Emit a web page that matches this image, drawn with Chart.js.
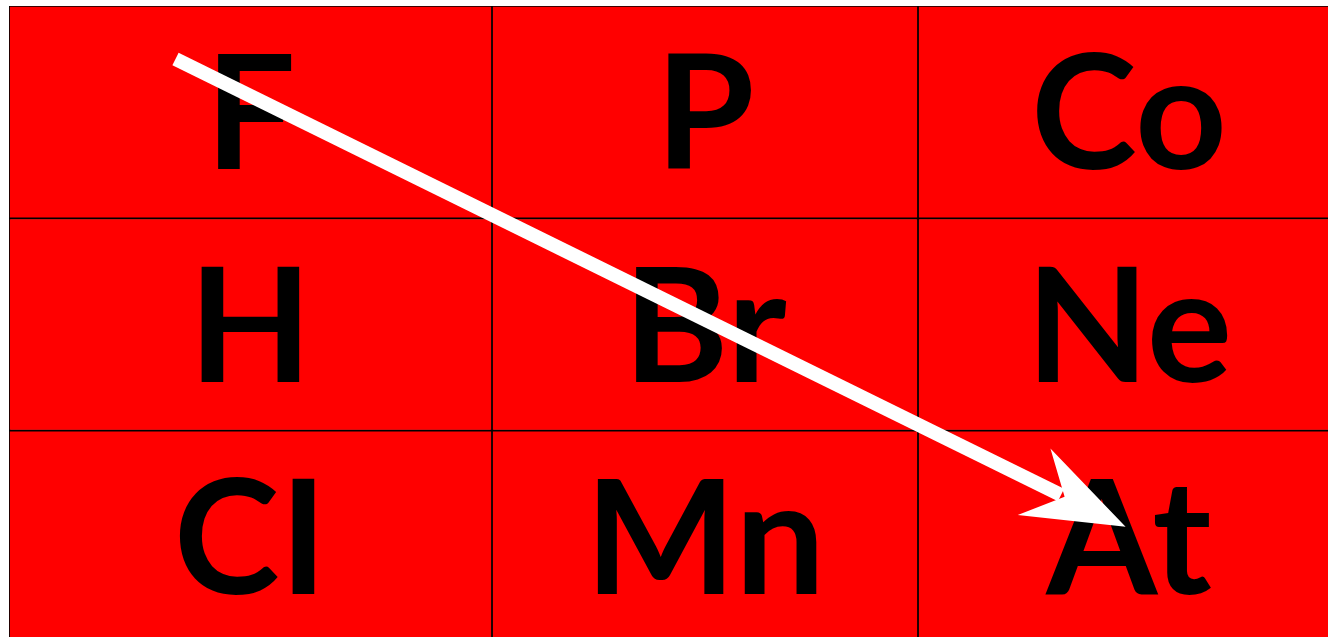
<!DOCTYPE html>
<html>
<head>
<meta charset="utf-8">
<script src="https://cdn.jsdelivr.net/npm/chart.js@4"></script>
<style>
  html, body { margin: 0; padding: 0; background: #fff; overflow: hidden; }
  #mychart { position: absolute; left: 0; top: 0; }
</style>
</head>
<body>
<canvas id="mychart" width="1350" height="660"></canvas>
<script>
// grid of element symbols, one row per category
const rows = ['row1', 'row2', 'row3'];
const colWidths = [483, 426, 422];
const symbols = [
    ['F', 'P', 'Co'],
    ['H', 'Br', 'Ne'],
    ['CI', 'Mn', 'At']
];

// arrow from tail to the start of its head (x in grid units, y in rows)
const arrowX = [166.5, 1052];
const arrowY = [0.25, 2.303];

function loadChart(){
    const ctx = document.querySelector('#mychart');

    let starts = [];
    let acc = 0;
    colWidths.forEach(w => { starts.push(acc); acc += w; });

    let datasets = colWidths.map((w, c) => ({
        type: 'bar',
        label: 'col' + c,
        data: rows.map(() => [starts[c], starts[c] + w]),
        backgroundColor: '#ff0000',
        borderColor: '#000000',
        borderWidth: 1.2,
        borderSkipped: false,
        barPercentage: 1,
        categoryPercentage: 1,
        grouped: false,
        order: 1
    }));

    datasets.push({
        type: 'line',
        label: 'arrow',
        indexAxis: 'x',
        data: arrowX.map((x, i) => ({ x: x, y: arrowY[i] })),
        xAxisID: 'x',
        yAxisID: 'yArrow',
        borderColor: '#ffffff',
        borderWidth: 14,
        borderCapStyle: 'butt',
        pointRadius: 0,
        tension: 0,
        fill: false,
        order: 0
    });

    // symbols go under the arrow, on top of the cells
    const cellText = {
        id: 'cellText',
        beforeDatasetDraw(chart, args) {
            if (args.meta.type !== 'line') return;
            const c = chart.ctx;
            c.save();
            c.fillStyle = '#000';
            c.font = 'bold 160px "Comic Sans MS", Lato, sans-serif';
            c.textAlign = 'center';
            c.textBaseline = 'alphabetic';
            symbols.forEach((row, r) => {
                row.forEach((s, col) => {
                    const bar = chart.getDatasetMeta(col).data[r];
                    const cx = (bar.base + bar.x) / 2;
                    c.fillText(s, cx, bar.y + 57);
                });
            });
            c.restore();
        }
    };

    const arrowHead = {
        id: 'arrowHead',
        afterDatasetsDraw(chart) {
            const pts = chart.getDatasetMeta(datasets.length - 1).data;
            const a = pts[0], b = pts[pts.length - 1];
            let dx = b.x - a.x, dy = b.y - a.y;
            const len = Math.hypot(dx, dy);
            dx /= len; dy /= len;
            const nx = -dy, ny = dx;
            const tip = [b.x + dx * 72, b.y + dy * 72];
            const notch = [tip[0] - dx * 68, tip[1] - dy * 68];
            const back = [tip[0] - dx * 102, tip[1] - dy * 102];
            const c = chart.ctx;
            c.save();
            c.fillStyle = '#ffffff';
            c.beginPath();
            c.moveTo(tip[0], tip[1]);
            c.lineTo(back[0] + nx * 37, back[1] + ny * 37);
            c.lineTo(notch[0], notch[1]);
            c.lineTo(back[0] - nx * 37, back[1] - ny * 37);
            c.closePath();
            c.fill();
            c.restore();
        }
    };

    new Chart(ctx, {
        type: 'bar',
        data: {
            labels: rows,
            datasets: datasets
        },
        options: {
            indexAxis: 'y',
            responsive: false,
            animation: false,
            layout: { padding: { left: 9, top: 6, right: 10, bottom: 17 } },
            scales: {
                x: { type: 'linear', min: 0, max: acc, offset: false, display: false },
                y: { type: 'category', display: false },
                yArrow: { type: 'linear', min: 0, max: 3, reverse: true, offset: false, display: false }
            },
            plugins: {
                legend: { display: false },
                tooltip: { enabled: false }
            }
        },
        plugins: [cellText, arrowHead]
    });
}

loadChart();
</script>
</body>
</html>
